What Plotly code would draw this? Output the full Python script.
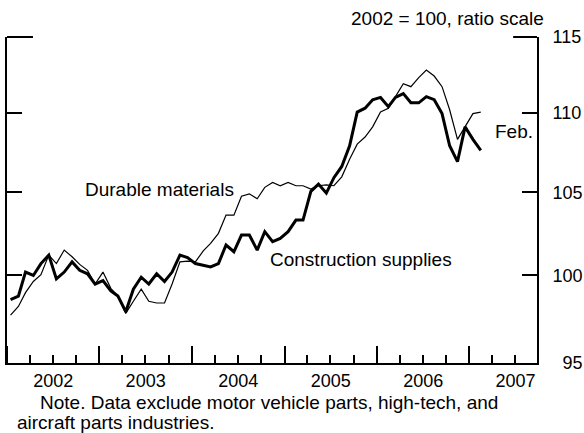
import numpy as np
import pandas as pd
import plotly.graph_objects as go

# monthly index, Jan 2002 - Feb 2007 (2002 = 100, ratio scale)
months = pd.date_range("2002-01-01", periods=62, freq="MS") + pd.Timedelta(days=14)

durable = [97.7, 98.2, 99.0, 99.65, 100.05, 101.2, 100.7, 101.5, 101.1, 100.65, 100.3, 99.5,
           100.2, 99.25, 98.8, 97.8, 98.5, 99.2, 98.5, 98.4, 98.4, 99.5, 100.8, 100.85,
           100.8, 101.45, 101.9, 102.5, 103.6, 103.6, 104.75, 104.9, 104.6, 105.3, 105.6, 105.4,
           105.6, 105.4, 105.4, 105.2, 105.4, 105.45, 105.4, 105.95, 107.05, 108.0, 108.45, 109.1,
           110.05, 110.3, 111.05, 111.9, 111.7, 112.3, 112.8, 112.4, 111.7, 110.2, 108.3, 109.1,
           109.95, 110.05]

construction = [98.6, 98.8, 100.2, 100.0, 100.7, 101.2, 99.8, 100.2, 100.8, 100.3, 100.1, 99.5,
                99.7, 99.1, 98.8, 97.9, 99.2, 99.9, 99.5, 100.1, 99.65, 100.2, 101.2, 101.05,
                100.7, 100.6, 100.5, 100.7, 101.8, 101.4, 102.4, 102.4, 101.5, 102.6, 102.0, 102.2,
                102.6, 103.3, 103.3, 105.05, 105.5, 104.95, 105.9, 106.6, 107.9, 110.05, 110.3, 110.85,
                111.0, 110.4, 111.0, 111.25, 110.65, 110.65, 111.05, 110.85, 109.95, 107.9, 106.9, 109.1,
                108.3, 107.6]

y_ticks = [95, 100, 105, 110, 115]
y_ticktext = ["\u200795", "100", "105", "110", "115"]

FONT = "Liberation Sans, Arial, sans-serif"

fig = go.Figure()
fig.add_trace(go.Scatter(x=months, y=durable, mode="lines",
                         line=dict(color="black", width=1.2), showlegend=False))
fig.add_trace(go.Scatter(x=months, y=construction, mode="lines",
                         line=dict(color="black", width=3), showlegend=False))

fig.update_layout(
    width=584, height=433,
    margin=dict(l=7, r=47, t=37, b=70),
    paper_bgcolor="white", plot_bgcolor="white",
    font=dict(family=FONT, size=18, color="black"),
    xaxis=dict(type="date", range=["2002-01-01", "2007-09-25"], automargin=False,
               tick0="2002-01-01", dtick="M12", tickformat="%Y", ticklabelmode="period",
               ticks="inside", ticklen=17, tickwidth=2, tickcolor="black",
               showline=True, linewidth=2, linecolor="black",
               showgrid=False, zeroline=False,
               minor=dict(dtick="M3", ticks="inside", ticklen=8, tickwidth=2,
                          tickcolor="black", showgrid=False)),
    yaxis=dict(type="log", range=[np.log10(95), np.log10(115)], side="right", automargin=False,
               tickvals=y_ticks, ticktext=y_ticktext, ticklabelstandoff=10,
               ticks="inside", ticklen=15, tickwidth=2, tickcolor="black",
               showline=True, linewidth=2, linecolor="black", mirror="ticks",
               showgrid=False, zeroline=False),
)

# longer ticks at the top of the scale
fig.add_shape(type="line", xref="paper", yref="paper", x0=0, x1=0.049, y0=1, y1=1,
              line=dict(color="black", width=2))
fig.add_shape(type="line", xref="paper", yref="paper", x0=1 - 0.045, x1=1, y0=1, y1=1,
              line=dict(color="black", width=2))

notes = [
    dict(text="2002 = 100, ratio scale", x=1.017, y=1.058, xanchor="right"),
    dict(text="Durable materials", x=0.1434, y=0.531, xanchor="left"),
    dict(text="Construction supplies", x=0.4925, y=0.319, xanchor="left"),
    dict(text="Feb.", x=0.917, y=0.709, xanchor="left"),
    dict(text="Note. Data exclude motor vehicle parts, high-tech, and", x=0.0585, y=-0.12, xanchor="left"),
    dict(text="aircraft parts industries.", x=0.0151, y=-0.181, xanchor="left"),
]
for n in notes:
    fig.add_annotation(xref="paper", yref="paper", showarrow=False, yanchor="middle",
                       font=dict(family=FONT, size=19, color="black"), **n)

# drop the default page margin so the figure sits at the window's corner
fig.write_html("out.html", config={"displayModeBar": False},
               post_script="document.body.style.margin='0';")
